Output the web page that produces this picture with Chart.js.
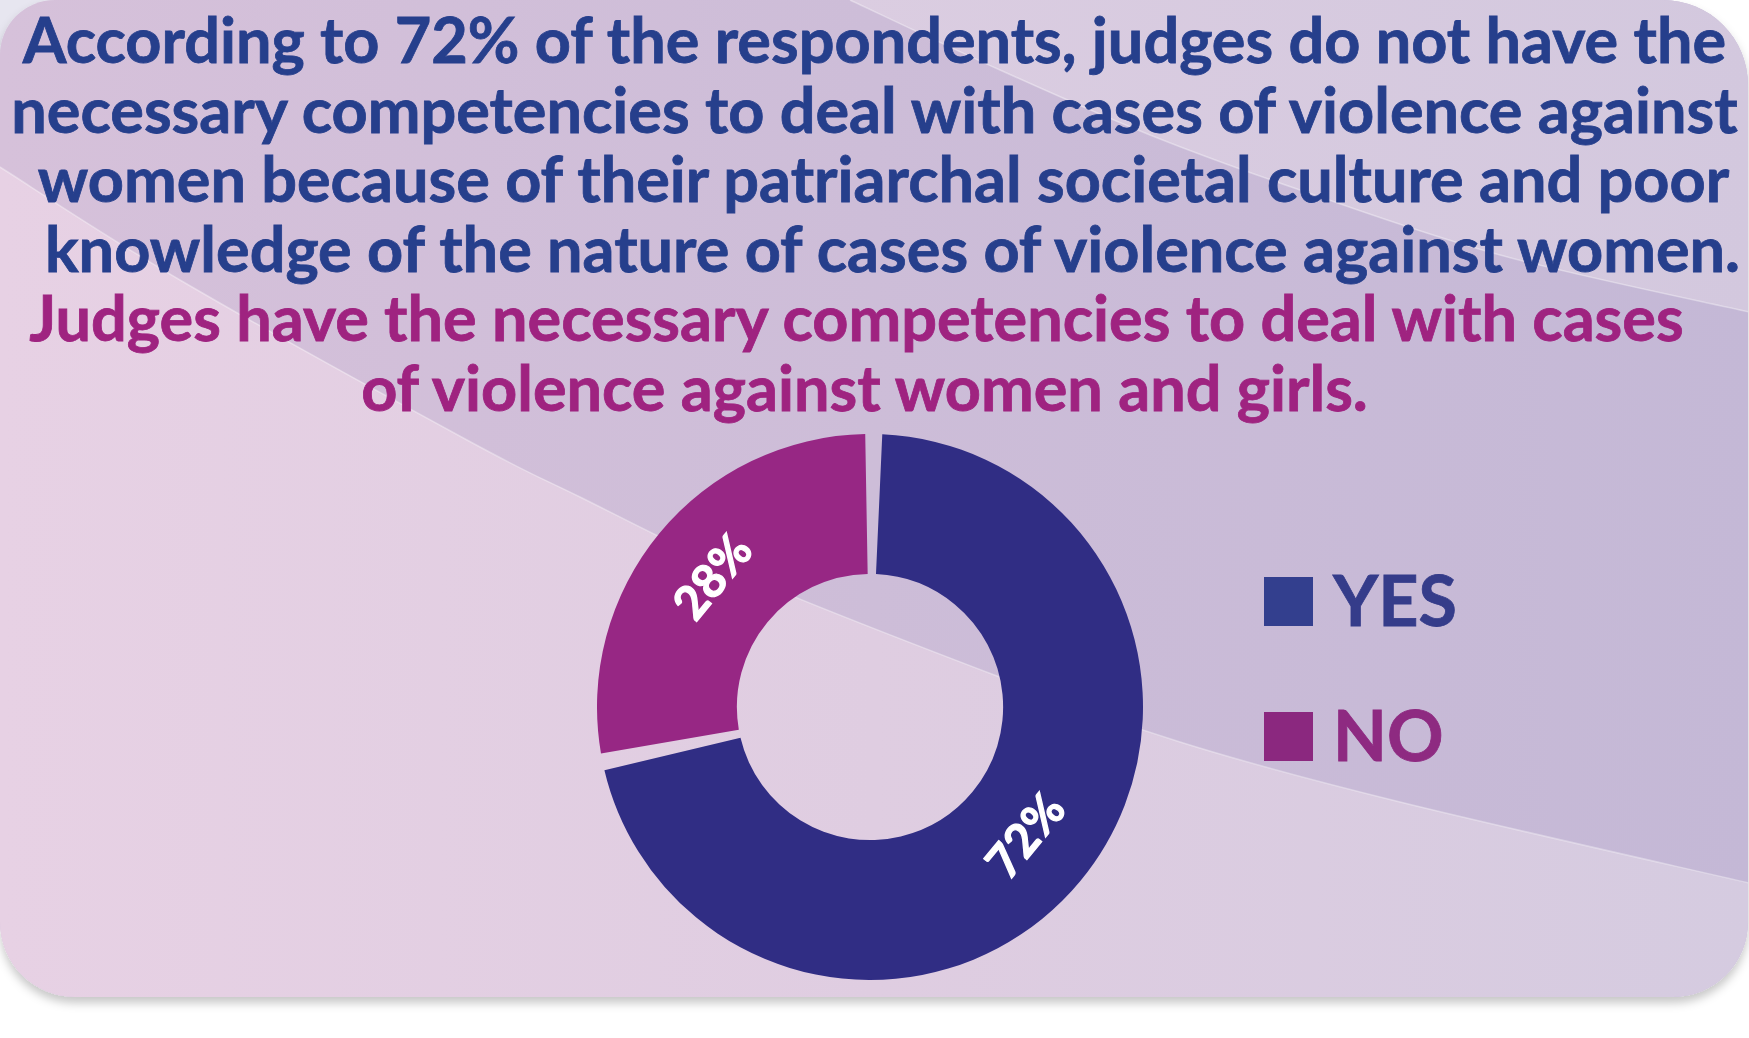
<!DOCTYPE html>
<html>
<head>
<meta charset="utf-8">
<script src="https://cdn.jsdelivr.net/npm/chart.js@4.4.0/dist/chart.umd.min.js"></script>
<style>
  html, body { margin: 0; padding: 0; background: #fff; width: 1749px; height: 1038px; overflow: hidden; }
  #bg { position: absolute; left: 0; top: 0; }
  .lines { position: absolute; left: 0; width: 1749px; text-align: center; font-family: Lato, sans-serif; font-weight: 700; font-size: 63px; line-height: 69.5px; white-space: nowrap; -webkit-text-stroke: 0.8px currentColor; }
  .lines span { display: block; position: relative; }
  #title { top: 4px; color: #263f8c; }
  #title span:nth-child(3) { left: 9px; }
  #title span:nth-child(4) { left: 18px; }
  #subtitle { top: 282px; color: #9f2380; }
  #subtitle span:nth-child(1) { left: -18px; }
  #subtitle span:nth-child(2) { left: -10px; }
  #wrap { position: absolute; left: 597px; top: 434px; width: 546px; height: 546px; }
  .item { position: absolute; left: 1264px; height: 49px; display: flex; align-items: center; font-family: Lato, sans-serif; font-weight: 700; font-size: 70px; line-height: 49px; -webkit-text-stroke: 0.8px currentColor; }
  .item .box { width: 49px; height: 49px; margin-right: 20px; }
  .item span { position: relative; top: -2px; }
</style>
</head>
<body>
<svg id="bg" width="1749" height="1038"></svg>
<div id="title" class="lines"></div>
<div id="subtitle" class="lines"></div>
<div id="wrap"><canvas id="canvas"></canvas></div>
<div id="legend"></div>
<script>
var titleLines = [
  "According to 72% of the respondents, judges do not have the",
  "necessary competencies to deal with cases of violence against",
  "women because of their patriarchal societal culture and poor",
  "knowledge of the nature of cases of violence against women."
];
var subtitleLines = [
  "Judges have the necessary competencies to deal with cases",
  "of violence against women and girls."
];
var categories = ["YES", "NO"];
var shares = [72, 28];
var sliceColors = ["#302d84", "#972784"];
var legendColors = ["#333f8e", "#8b287f"];
var legendTextColors = ["#353c8a", "#8e2a81"];

(function(){
  // background panel with the two swooshes
  var svg = document.getElementById("bg");
  function smooth(pts){
    var d = "M" + pts[0][0] + "," + pts[0][1];
    for (var i = 0; i < pts.length - 1; i++) {
      var p0 = pts[i - 1] || pts[i], p1 = pts[i], p2 = pts[i + 1], p3 = pts[i + 2] || p2;
      var c1x = p1[0] + (p2[0] - p0[0]) / 6, c1y = p1[1] + (p2[1] - p0[1]) / 6;
      var c2x = p2[0] - (p3[0] - p1[0]) / 6, c2y = p2[1] - (p3[1] - p1[1]) / 6;
      d += " C" + c1x + "," + c1y + " " + c2x + "," + c2y + " " + p2[0] + "," + p2[1];
    }
    return d;
  }
  var low = [[0,167],[180,280],[467,440],[580,497],[742,575],[997,676],[1180,742],[1400,802],[1749,883]];
  var high = [[850,0],[1000,70],[1150,135],[1300,190],[1500,255],[1749,312]];
  var panel = "M55,0 H1663 A85,85 0 0 1 1748,85 V922 A75,75 0 0 1 1673,997 H75 A75,75 0 0 1 0,922 V55 A55,55 0 0 1 55,0 Z";
  svg.innerHTML =
    '<defs>' +
    '<linearGradient id="gA" gradientUnits="userSpaceOnUse" x1="0" y1="0" x2="1749" y2="0"><stop offset="0" stop-color="#e7d1e4"/><stop offset="0.5" stop-color="#dfcde1"/><stop offset="1" stop-color="#d5cbe0"/></linearGradient>' +
    '<linearGradient id="gB" gradientUnits="userSpaceOnUse" x1="0" y1="0" x2="1749" y2="0"><stop offset="0" stop-color="#d6c1da"/><stop offset="0.5" stop-color="#cdbdd8"/><stop offset="1" stop-color="#c4b8d6"/></linearGradient>' +
    '<linearGradient id="gC" gradientUnits="userSpaceOnUse" x1="850" y1="0" x2="1749" y2="0"><stop offset="0" stop-color="#dbcde1"/><stop offset="1" stop-color="#d3c8de"/></linearGradient>' +
    '<clipPath id="clip"><path d="' + panel + '"/></clipPath>' +
    '<filter id="sh" x="-5%" y="-5%" width="110%" height="115%"><feDropShadow dx="0" dy="6" stdDeviation="5" flood-color="#000" flood-opacity="0.22"/></filter>' +
    '</defs>' +
    '<rect x="0" y="0" width="80" height="80" fill="#e7e6f0"/>' +
    '<path d="' + panel + '" fill="url(#gB)" filter="url(#sh)"/>' +
    '<g clip-path="url(#clip)">' +
    '<path d="' + smooth(high) + ' L1749,0 Z" fill="url(#gC)"/>' +
    '<path d="' + smooth(low) + ' L1749,1000 L0,1000 Z" fill="url(#gA)"/>' +
    '<path d="' + smooth(high) + '" fill="none" stroke="rgba(255,255,255,0.35)" stroke-width="1.5"/>' +
    '<path d="' + smooth(low) + '" fill="none" stroke="rgba(255,255,255,0.35)" stroke-width="1.5"/>' +
    '</g>';

  function fillLines(id, lines){
    var el = document.getElementById(id);
    lines.forEach(function(t){
      var s = document.createElement("span");
      s.textContent = t;
      el.appendChild(s);
    });
  }
  fillLines("title", titleLines);
  fillLines("subtitle", subtitleLines);

  // legend built from the same arrays
  var legend = document.getElementById("legend");
  categories.forEach(function(name, i){
    var item = document.createElement("div");
    item.className = "item";
    item.style.top = (577 + i * 135) + "px";
    item.style.color = legendTextColors[i];
    item.innerHTML = '<div class="box" style="background:' + legendColors[i] + '"></div><span>' + name + '</span>';
    legend.appendChild(item);
  });

  var sliceLabels = {
    id: "sliceLabels",
    afterDatasetsDraw: function(chart){
      var ctx = chart.ctx;
      var meta = chart.getDatasetMeta(0);
      var values = chart.data.datasets[0].data;
      meta.data.forEach(function(arc, i){
        var p = arc.tooltipPosition();
        var mid = (arc.startAngle + arc.endAngle) / 2;
        var rot = mid + Math.PI / 2;
        while (rot > Math.PI / 2) rot -= Math.PI;
        while (rot < -Math.PI / 2) rot += Math.PI;
        ctx.save();
        ctx.translate(p.x, p.y);
        ctx.rotate(rot);
        ctx.fillStyle = "#ffffff";
        ctx.strokeStyle = "#ffffff";
        ctx.lineWidth = 1.2;
        ctx.font = "bold 47px Lato";
        ctx.textAlign = "center";
        ctx.textBaseline = "middle";
        ctx.fillText(values[i] + "%", 0, 0);
        ctx.strokeText(values[i] + "%", 0, 0);
        ctx.restore();
      });
    }
  };

  new Chart(document.getElementById("canvas"), {
    type: "doughnut",
    data: {
      labels: categories,
      datasets: [{
        data: shares,
        backgroundColor: sliceColors,
        borderWidth: 0,
        spacing: 8
      }]
    },
    options: {
      responsive: true,
      maintainAspectRatio: false,
      animation: false,
      cutout: "48%",
      rotation: 0,
      layout: { padding: 0 },
      plugins: {
        legend: { display: false },
        tooltip: { enabled: false }
      }
    },
    plugins: [sliceLabels]
  });
}());
</script>
</body>
</html>
